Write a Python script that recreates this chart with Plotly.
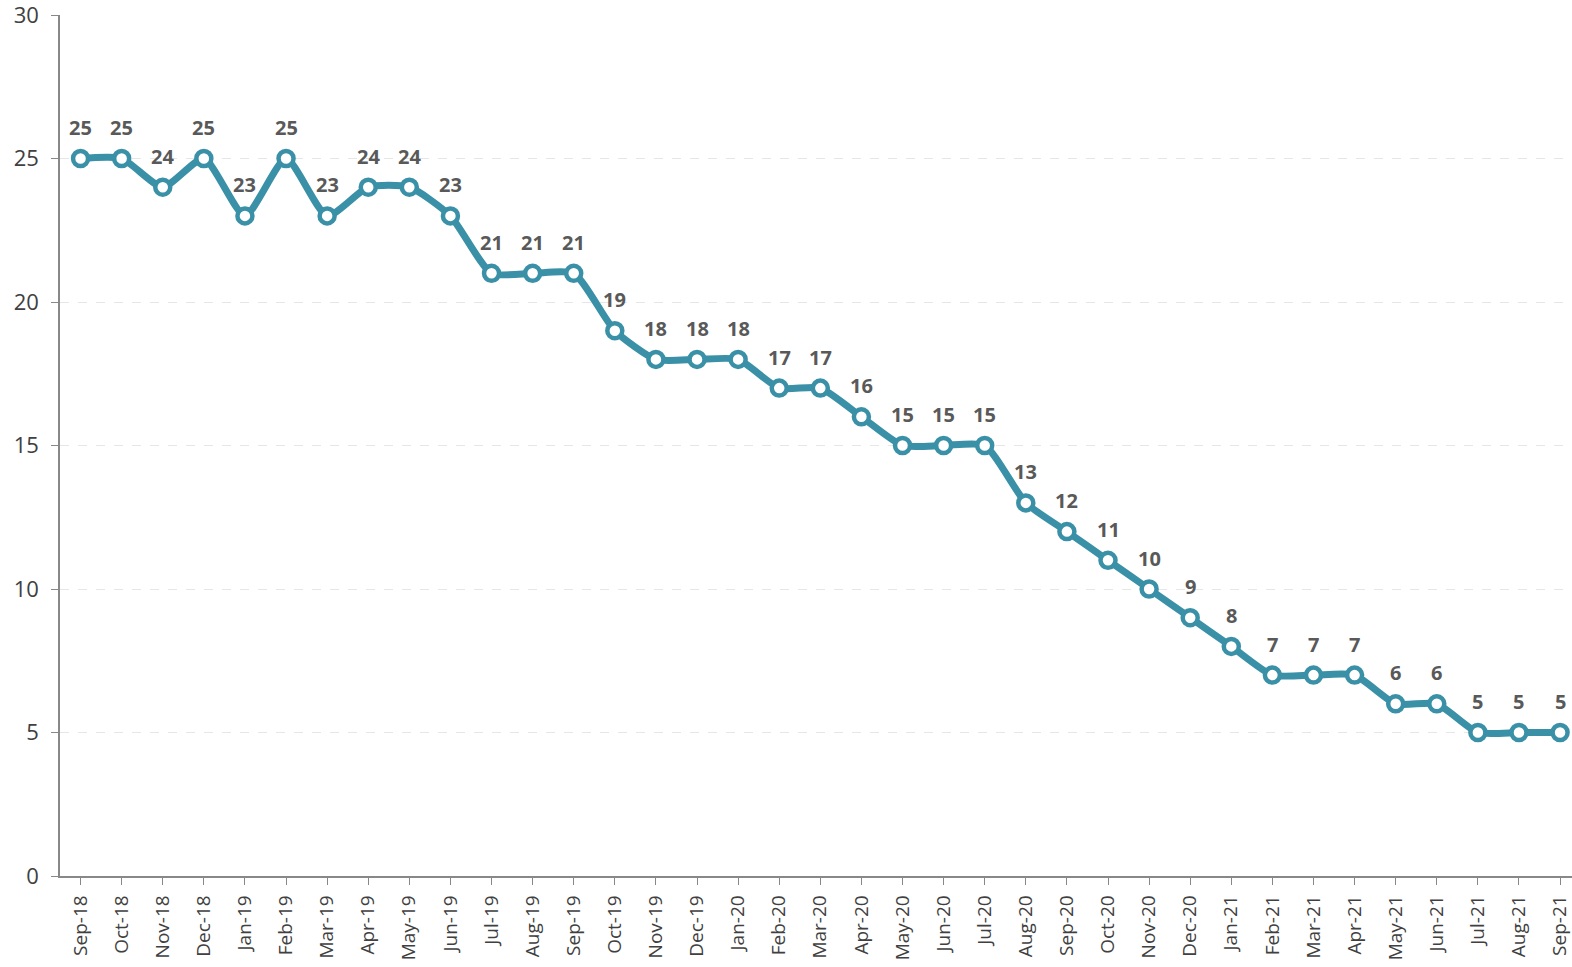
import plotly.graph_objects as go

months = ["Sep-18","Oct-18","Nov-18","Dec-18","Jan-19","Feb-19","Mar-19","Apr-19","May-19","Jun-19",
          "Jul-19","Aug-19","Sep-19","Oct-19","Nov-19","Dec-19","Jan-20","Feb-20","Mar-20","Apr-20",
          "May-20","Jun-20","Jul-20","Aug-20","Sep-20","Oct-20","Nov-20","Dec-20","Jan-21","Feb-21",
          "Mar-21","Apr-21","May-21","Jun-21","Jul-21","Aug-21","Sep-21"]
values = [25,25,24,25,23,25,23,24,24,23,21,21,21,19,18,18,18,17,17,16,15,15,15,13,12,11,10,9,8,7,7,7,6,6,5,5,5]
y_ticks = [0, 5, 10, 15, 20, 25, 30]

color = "#3A91A7"
fig = go.Figure()
fig.add_trace(go.Scatter(
    x=list(range(len(months))), y=values, mode="lines+markers",
    line=dict(color=color, width=7, shape="spline", smoothing=0.6),
    marker=dict(size=15, color="white", line=dict(color=color, width=4.5)),
    cliponaxis=False, hoverinfo="skip"))

for i, v in enumerate(values):
    fig.add_annotation(x=i, y=v, text=f"<b>{v}</b>", showarrow=False, yshift=31,
                       font=dict(family="Open Sans, Liberation Sans", size=20, color="#595959"))

fig.update_layout(
    width=1572, height=967, margin=dict(l=60, r=0, t=15, b=91, autoexpand=False),
    plot_bgcolor="white", paper_bgcolor="white", showlegend=False,
    font=dict(family="Open Sans, Liberation Sans", color="#404040"),
    xaxis=dict(tickmode="array", tickvals=list(range(len(months))), ticktext=months,
               range=[-0.5, 36.29], tickangle=-90, tickfont=dict(size=19, color="#404040"),
               automargin=False, ticklabelstandoff=3, ticklabeloverflow="allow",
               showgrid=False, showline=True, linecolor="#888888", linewidth=1.5,
               ticks="outside", ticklen=7, tickcolor="#888888", zeroline=False),
    yaxis=dict(range=[0, 30], tickvals=y_ticks, tickfont=dict(size=22, color="#404040"),
               automargin=False, ticklabelstandoff=8, ticklabeloverflow="allow",
               showgrid=True, gridcolor="#e6e6e6", griddash="dash", gridwidth=1,
               showline=True, linecolor="#888888", linewidth=1.5,
               ticks="outside", ticklen=7, tickcolor="#888888", zeroline=False),
)
fig.write_html("out.html", config={"displayModeBar": False},
               post_script="document.body.style.margin='0';document.body.style.overflow='hidden';")
